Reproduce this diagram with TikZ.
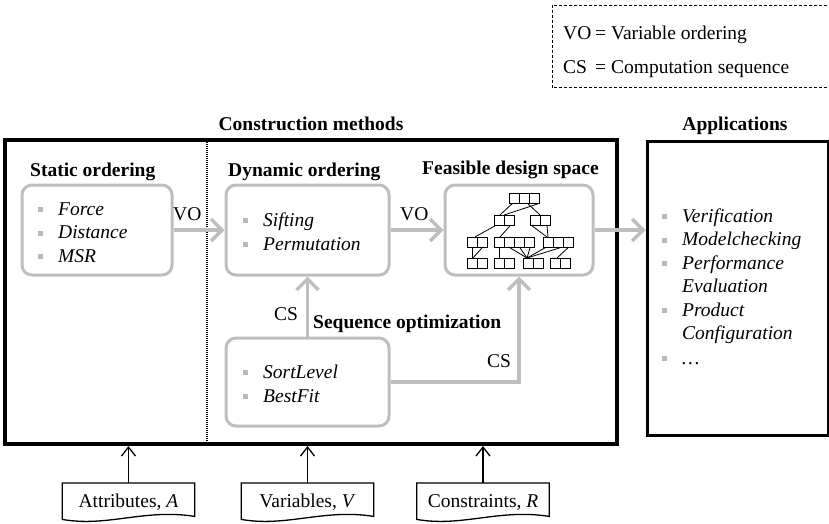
\documentclass[tikz,border=0pt]{standalone}
\usepackage{fontspec}
\setmainfont{Liberation Serif}
\usetikzlibrary{arrows.meta,calc}
\definecolor{gboxc}{RGB}{190,190,190}
\definecolor{bulc}{RGB}{185,185,185}
\newcommand\bitem[1]{\textcolor{bulc}{\rule[3pt]{5pt}{5pt}}\hspace{15pt}\textit{#1}}
\newcommand\nitem[1]{\hspace{20pt}\textit{#1}}
\newcommand\cellrow[5]{%
  \node[treebox, minimum width=#4, anchor=north west] (#1) at (#2,#3) {};
  \foreach \k in {#5} {\draw[treeline] ([xshift=\k pt]#1.north west) -- ([xshift=\k pt]#1.south west);}
}
\tikzset{
  every node/.style={font=\fontsize{19.5}{23.5}\selectfont},
  gbox/.style={draw=gboxc, line width=3pt, rounded corners=10pt, inner sep=0pt},
  mainbox/.style={draw=black, line width=4pt, inner sep=0pt},
  appbox/.style={draw=black, line width=3pt, inner sep=0pt},
  titletext/.style={font=\fontsize{19.5}{23.5}\selectfont\bfseries, inner sep=0pt},
  lbl/.style={inner sep=0pt, anchor=base west},
  itemnode/.style={inner sep=0pt, anchor=base west},
  docbox/.style={inner sep=0pt, minimum width=132pt, minimum height=30pt, anchor=north, text height=18pt, text depth=0pt},
  docline/.style={draw=black, line width=1.3pt},
  treebox/.style={draw=black, line width=0.8pt, minimum height=10pt, inner sep=0pt},
  treeline/.style={draw=black, line width=0.8pt},
  garrow/.style={draw=gboxc, line width=3.5pt, -{Straight Barb[length=11pt,width=22pt]}},
  karrow/.style={draw=black, line width=1.3pt, -{Straight Barb[length=9pt,width=14pt]}},
}
\begin{document}
\begin{tikzpicture}[x=1pt,y=-1pt]
\useasboundingbox (0,0) rectangle (829,523);

% legend
\node[inner sep=0pt, minimum width=290pt, minimum height=82pt, anchor=north west] (legend) at (552,5) {};
\draw[dashed, line width=1pt, dash pattern=on 3pt off 2pt] (legend.north east) -- (legend.north west) -- (legend.south west) -- (legend.south east);
\node[lbl] (lvo) at (563,39) {VO};
\node[lbl] (lvot) at (595,39) {= Variable ordering};
\node[lbl] (lcs) at (563,73) {CS};
\node[lbl] (lcst) at (595,73) {= Computation sequence};

% main frames
\node[mainbox, minimum width=612pt, minimum height=304pt] (main) at (311,292) {};
\node[appbox, minimum width=181pt, minimum height=294pt] (app) at (737.5,288) {};
\draw[line width=1.2pt, dash pattern=on 1pt off 1pt] (207,142) -- (207,442);

\node[titletext, anchor=base] (tcm) at (311,130) {Construction methods};
\node[titletext, anchor=base] (tapp) at (735,130) {Applications};

% grey boxes
\node[gbox, minimum width=150pt, minimum height=90pt] (stat) at (97,230) {};
\node[gbox, minimum width=163pt, minimum height=90pt] (dyn) at (307.5,230) {};
\node[gbox, minimum width=148pt, minimum height=90pt] (feas) at (519,230) {};
\node[gbox, minimum width=163pt, minimum height=88pt] (seq) at (307.5,382) {};

\node[titletext, anchor=base west] (tstat) at (30,176) {Static ordering};
\node[titletext, anchor=base west] (tdyn) at (228,176) {Dynamic ordering};
\node[titletext, anchor=base west] (tfeas) at (422,174) {Feasible design space};
\node[titletext, anchor=base west] (tseq) at (313,328) {Sequence optimization};

% items
\node[itemnode] (i1) at (38,215) {\bitem{Force}};
\node[itemnode] (i2) at (38,238.5) {\bitem{Distance}};
\node[itemnode] (i3) at (38,262) {\bitem{MSR}};
\node[itemnode] (i4) at (243,226) {\bitem{Sifting}};
\node[itemnode] (i5) at (243,250) {\bitem{Permutation}};
\node[itemnode] (i6) at (243,378) {\bitem{SortLevel}};
\node[itemnode] (i7) at (243,402) {\bitem{BestFit}};
\node[itemnode] (a1) at (662,222) {\bitem{Verification}};
\node[itemnode] (a2) at (662,245.5) {\bitem{Modelchecking}};
\node[itemnode] (a3) at (662,269) {\bitem{Performance}};
\node[itemnode] (a4) at (662,292.5) {\nitem{Evaluation}};
\node[itemnode] (a5) at (662,316) {\bitem{Product}};
\node[itemnode] (a6) at (662,339.5) {\nitem{Configuration}};
\node[itemnode] (a7) at (662,364) {\bitem{\dots}};

% tree
\cellrow{t0}{509}{193}{30pt}{10,20}
\cellrow{ta}{494}{215}{20pt}{10}
\cellrow{tb}{530}{215}{20pt}{10}
\cellrow{tA}{467}{237}{20pt}{10}
\cellrow{tB}{494}{237}{40pt}{10,20,30}
\cellrow{tC}{543}{237}{30pt}{10,20}
\cellrow{tD}{467}{258}{20pt}{10}
\cellrow{tE}{494}{258}{20pt}{10}
\cellrow{tF}{523}{258}{20pt}{10}
\cellrow{tG}{550}{258}{20pt}{10}
\draw[treeline] ([xshift=3pt]t0.south west) -- ([xshift=6pt]ta.north west);
\draw[treeline] ([xshift=29pt]t0.south west) -- ([xshift=10pt]ta.north west);
\draw[treeline] ([xshift=19pt]t0.south west) -- ([xshift=10pt]tb.north west);
\draw[treeline] ([xshift=1pt]ta.south west) -- ([xshift=8pt]tA.north west);
\draw[treeline] ([xshift=16pt]ta.south west) -- ([xshift=6pt]tB.north west);
\draw[treeline] ([xshift=2pt]tb.south west) -- ([xshift=4pt]tC.north west);
\draw[treeline] ([xshift=17pt]tb.south west) -- ([xshift=5pt]tC.north west);
\draw[treeline] ([xshift=5pt]tA.south west) -- ([xshift=5pt]tD.north west);
\draw[treeline] ([xshift=15pt]tA.south west) -- ([xshift=6pt]tD.north west);
\draw[treeline] ([xshift=5pt]tB.south west) -- ([xshift=5pt]tE.north west);
\draw[treeline] ([xshift=16pt]tB.south west) -- ([xshift=4pt]tF.north west);
\draw[treeline] ([xshift=26pt]tB.south west) -- ([xshift=4pt]tF.north west);
\draw[treeline] ([xshift=36pt]tB.south west) -- ([xshift=4pt]tF.north west);
\draw[treeline] ([xshift=2pt]tC.south west) -- ([xshift=4pt]tF.north west);
\draw[treeline] ([xshift=17pt]tC.south west) -- ([xshift=4pt]tF.north west);
\draw[treeline] ([xshift=25pt]tC.south west) -- ([xshift=7pt]tG.north west);

% grey arrows
\draw[garrow] (stat.east) -- (dyn.west);
\draw[garrow] (dyn.east) -- (feas.west);
\draw[garrow] (feas.east) -- (feas.east -| app.west);
\draw[garrow] (seq.north) -- (dyn.south);
\draw[garrow] (seq.east) -| (feas.south);
\node[lbl] (vo1) at (173,220) {VO};
\node[lbl] (vo2) at (400,220) {VO};
\node[lbl] (cs1) at (274,320) {CS};
\node[lbl] (cs2) at (487,367) {CS};

% documents
\node[docbox] (dA) at (128.5,483) {Attributes, \textit{A}};
\node[docbox] (dV) at (307.5,483) {Variables, \textit{V}};
\node[docbox] (dR) at (483,483) {Constraints, \textit{R}};
\foreach \d in {dA,dV,dR} {
  \draw[docline] (\d.south west) -- (\d.north west) -- (\d.north east) -- ($(\d.south east)+(0,3)$)
    .. controls +(-50,-8) and +(45,8) .. ($(\d.south west)+(0,6)$) -- cycle;
  \draw[karrow] (\d.north) -- (\d.north |- main.south);
}
\end{tikzpicture}
\end{document}
